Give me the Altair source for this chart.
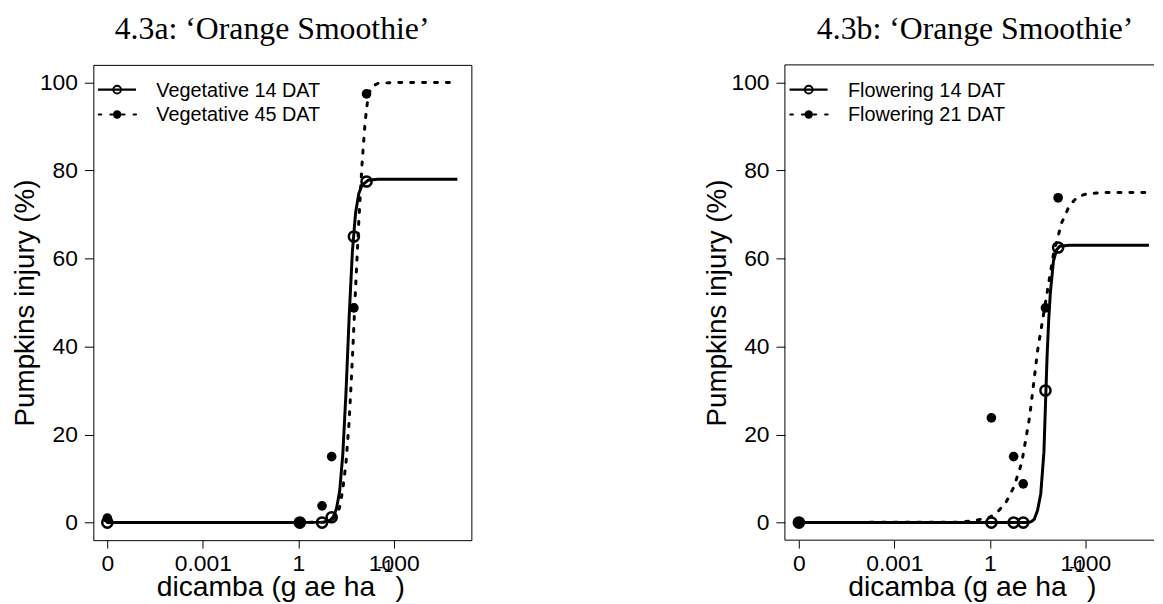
import altair as alt
import pandas as pd

# ---------------- data ----------------
# observed doses (g ae/ha); the untreated check (0) is drawn at 1e-6 on the log axis
obs_dose = [0.000001, 1.12, 5.6, 11.2, 56, 140]
veg14_obs = [0, 0, 0, 1.2, 65, 77.5]
veg45_obs = [1.0, 0, 3.8, 15, 48.8, 97.4]
flow14_obs = [0, 0, 0, 0, 30, 62.5]
flow21_obs = [0, 23.8, 15, 8.8, 48.8, 73.8]

# fitted dose-response curves
veg14_fit_dose = [0.000001, 1, 6.3, 10, 12.6, 15.8, 20, 25.1, 31.6, 39.8, 50.1, 63.1, 79.4, 100, 158, 316, 1000, 100000]
veg14_fit = [0, 0, 0.1, 0.5, 1.3, 3.1, 7.1, 15.5, 29.5, 46.8, 61.4, 70.3, 74.7, 76.6, 77.8, 78, 78, 78]

veg45_fit_dose = [0.000001, 1, 6.3, 10, 12.6, 15.8, 20, 25.1, 31.6, 39.8, 50.1, 63.1, 79.4, 100, 126, 158, 200, 316, 1000, 100000]
veg45_fit = [0, 0, 0.1, 0.4, 0.8, 1.5, 3.5, 7.5, 13.5, 23, 37, 53, 68, 81, 91, 97, 99, 99.8, 100, 100]

flow14_fit_dose = [0.000001, 1, 15.8, 20, 25.1, 31.6, 39.8, 50.1, 56.2, 63.1, 70.8, 79.4, 100, 126, 158, 316, 1000, 100000]
flow14_fit = [0, 0, 0, 0.2, 0.8, 2.8, 6.5, 16, 27, 38, 46, 52, 59.5, 62, 62.8, 63, 63, 63]

flow21_fit_dose = [0.000001, 0.1, 0.316, 1, 1.78, 3.16, 5.62, 10, 17.8, 31.6, 56.2, 100, 178, 316, 562, 1000, 3162, 100000]
flow21_fit = [0, 0.1, 0.4, 1.2, 2.5, 4.5, 8, 13.5, 24, 39, 50, 61, 68, 72, 74, 74.6, 75, 75]

x_tick_values = [0.000001, 0.001, 1, 1000]
x_tick_labels = ["0", "0.001", "1", "1000"]
y_tick_values = [0, 20, 40, 60, 80, 100]

panel_titles = ["4.3a: \u2018Orange Smoothie\u2019", "4.3b: \u2018Orange Smoothie\u2019"]
legend_a = ["Vegetative 14 DAT", "Vegetative 45 DAT"]
legend_b = ["Flowering 14 DAT", "Flowering 21 DAT"]
y_title = "Pumpkins injury (%)"
x_title_main = "dicamba (g ae ha"
x_title_sup = "-1"
x_title_end = ")"

# ---------------- styling ----------------
SANS = "Liberation Sans"
SERIF = "Liberation Serif"
H = 479
W_A = 381
W_B = 372
LOG_MIN = -6.44
PX_PER_DEC = W_A / 11.88


def label_expr(vals, labs):
    expr = "'" + labs[-1] + "'"
    for v, l in reversed(list(zip(vals[:-1], labs[:-1]))):
        expr = "datum.value < " + repr(v * 3) + " ? '" + l + "' : " + expr
    return expr


def make_panel(title, legend_labels, solid_obs, dash_obs, solid_fit, dash_fit, width, manual_box):
    xmax = LOG_MIN + width / PX_PER_DEC
    xscale = alt.Scale(type="log", domain=[10 ** LOG_MIN, 10 ** xmax], nice=False)
    yscale = alt.Scale(domain=[-4, 104], nice=False, zero=False)
    xaxis = alt.Axis(values=x_tick_values, labelExpr=label_expr(x_tick_values, x_tick_labels),
                     title=None, grid=False, domain=False, tickSize=8, tickColor="black",
                     labelFont=SANS, labelFontSize=23, labelColor="black", labelPadding=5,
                     labelFlush=False, labelOverlap=False, labelBound=False)
    yaxis = alt.Axis(values=y_tick_values, title=y_title, grid=False, domain=False, tickSize=9,
                     tickColor="black", labelFont=SANS, labelFontSize=23, labelColor="black",
                     labelPadding=7, labelOverlap=False, titleFont=SANS, titleFontSize=28,
                     titleFontWeight="normal", titleColor="black", titleX=-60, titleY=H / 2,
                     titleAngle=270, titleAlign="center", titleBaseline="alphabetic")
    X = alt.X("dose:Q", scale=xscale, axis=xaxis)
    Y = alt.Y("value:Q", scale=yscale, axis=yaxis)

    d_sf = pd.DataFrame({"dose": solid_fit[0], "value": solid_fit[1]})
    d_df = pd.DataFrame({"dose": dash_fit[0], "value": dash_fit[1]})
    d_so = pd.DataFrame({"dose": obs_dose, "value": solid_obs})
    d_do = pd.DataFrame({"dose": obs_dose, "value": dash_obs})

    layers = []
    layers.append(alt.Chart(d_df).mark_line(color="black", strokeWidth=3, strokeDash=[3, 9],
                                            strokeCap="round", clip=True).encode(x=X, y=Y))
    layers.append(alt.Chart(d_sf).mark_line(color="black", strokeWidth=3, clip=True).encode(x=X, y=Y))
    layers.append(alt.Chart(d_so).mark_point(shape="circle", filled=False, stroke="black", strokeWidth=2.5,
                                             size=105, opacity=1).encode(x=X, y=Y))
    layers.append(alt.Chart(d_do).mark_circle(color="black", size=95, opacity=1).encode(x=X, y=Y))

    # legend (inside top-left, no box)
    rows = [25, 50]
    one = pd.DataFrame({"k": [0]})
    layers.append(alt.Chart(one).mark_rule(color="black", strokeWidth=2.2).encode(
        x=alt.value(4.7), x2=alt.value(43), y=alt.value(rows[0])))
    layers.append(alt.Chart(one).mark_rule(color="black", strokeWidth=2.2, strokeDash=[2.5, 9.2],
                                           strokeCap="round").encode(
        x=alt.value(5.5), x2=alt.value(43), y=alt.value(rows[1])))
    layers.append(alt.Chart(one).mark_point(shape="circle", filled=False, stroke="black", strokeWidth=2,
                                            size=60, opacity=1).encode(x=alt.value(24), y=alt.value(rows[0])))
    layers.append(alt.Chart(one).mark_circle(color="black", size=72, opacity=1).encode(
        x=alt.value(24), y=alt.value(rows[1])))
    for i, lab in enumerate(legend_labels):
        layers.append(alt.Chart(pd.DataFrame({"t": [lab]})).mark_text(
            font=SANS, fontSize=20, color="black", align="left", baseline="alphabetic").encode(
            text="t:N", x=alt.value(63.5), y=alt.value(rows[i] + 7)))

    # x-axis title with superscript
    layers.append(alt.Chart(pd.DataFrame({"t": [x_title_main]})).mark_text(
        font=SANS, fontSize=28.5, color="black", align="right", baseline="alphabetic").encode(
        text="t:N", x=alt.value(284), y=alt.value(H + 56)))
    layers.append(alt.Chart(pd.DataFrame({"t": [x_title_sup]})).mark_text(
        font=SANS, fontSize=17.5, color="black", align="left", baseline="alphabetic").encode(
        text="t:N", x=alt.value(286.5), y=alt.value(H + 32)))
    layers.append(alt.Chart(pd.DataFrame({"t": [x_title_end]})).mark_text(
        font=SANS, fontSize=28.5, color="black", align="left", baseline="alphabetic").encode(
        text="t:N", x=alt.value(304.5), y=alt.value(H + 56)))

    # panel title
    tx = 180.2 if not manual_box else 191.7
    layers.append(alt.Chart(pd.DataFrame({"t": [title]})).mark_text(
        font=SERIF, fontSize=32, color="black", align="center", baseline="alphabetic").encode(
        text="t:N", x=alt.value(tx), y=alt.value(-26.2)))

    if manual_box:
        layers.append(alt.Chart(one).mark_rule(color="black", strokeWidth=1).encode(
            x=alt.value(0), x2=alt.value(width), y=alt.value(0)))
        layers.append(alt.Chart(one).mark_rule(color="black", strokeWidth=1).encode(
            x=alt.value(0), x2=alt.value(width), y=alt.value(H)))
        layers.append(alt.Chart(one).mark_rule(color="black", strokeWidth=1).encode(
            x=alt.value(0), y=alt.value(0), y2=alt.value(H)))

    ch = alt.layer(*layers).properties(width=width, height=H)
    if manual_box:
        ch = ch.properties(view=alt.ViewBackground(stroke="transparent"))
    return ch


panel_a = make_panel(panel_titles[0], legend_a, veg14_obs, veg45_obs,
                     (veg14_fit_dose, veg14_fit), (veg45_fit_dose, veg45_fit), W_A, False)
panel_b = make_panel(panel_titles[1], legend_b, flow14_obs, flow21_obs,
                     (flow14_fit_dose, flow14_fit), (flow21_fit_dose, flow21_fit), W_B, True)

chart = alt.hconcat(panel_a, panel_b, spacing=316, bounds="flush").properties(
    padding={"left": 3, "top": 2, "right": 0, "bottom": 0},
    background="white",
).configure_view(stroke="black", strokeWidth=1)

chart.save("out.html", embed_options={"renderer": "svg", "actions": False})
